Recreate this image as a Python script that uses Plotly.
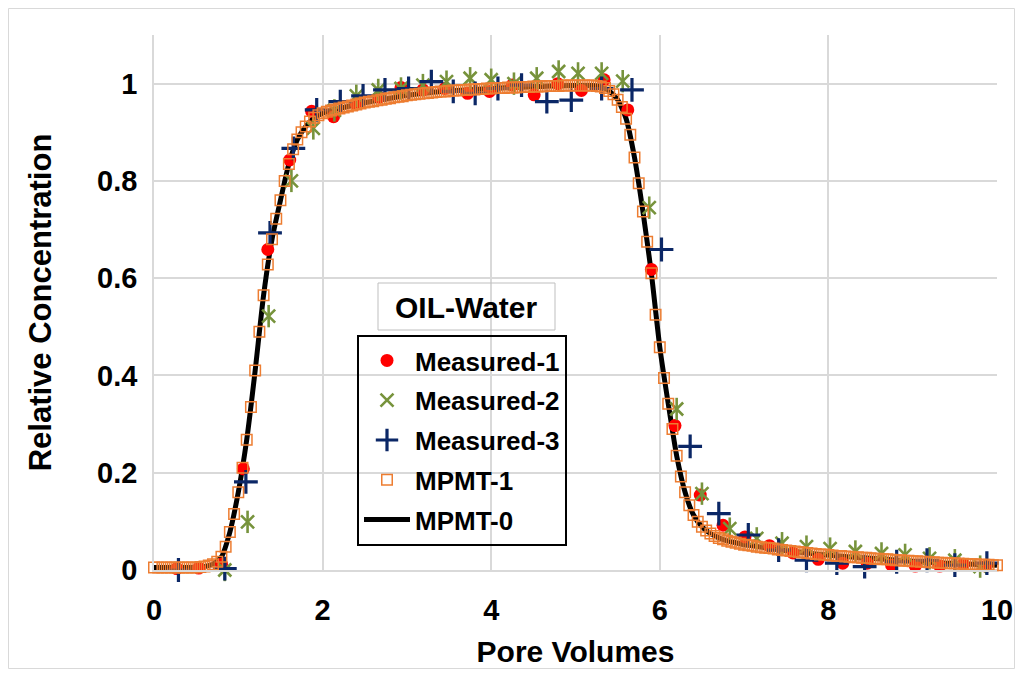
import plotly.graph_objects as go

# ---------------- data ----------------
# Measured-1 (red circles)
m1_pv = [0.27, 0.53, 0.80, 1.06, 1.35, 1.61, 1.87, 2.13, 2.40, 2.67, 2.93, 3.19, 3.45, 3.72,
         3.98, 4.25, 4.51, 4.79, 5.07, 5.34, 5.62, 5.90, 6.18, 6.48, 6.75, 7.01, 7.30, 7.58,
         7.88, 8.17, 8.46, 8.75, 9.03, 9.32, 9.60, 9.87]
m1_c = [0.003, 0.004, 0.012, 0.208, 0.659, 0.843, 0.943, 0.932, 0.958, 0.972, 0.992, 0.987,
        0.990, 0.980, 0.984, 0.997, 0.977, 1.000, 0.986, 1.008, 0.946, 0.618, 0.297, 0.154,
        0.092, 0.068, 0.050, 0.035, 0.022, 0.014, 0.014, 0.010, 0.008, 0.008, 0.012, 0.008]

# Measured-2 (green stars)
m2_pv = [0.29, 0.57, 0.84, 1.11, 1.36, 1.63, 1.89, 2.14, 2.40, 2.66, 2.93, 3.19, 3.47, 3.75,
         4.00, 4.27, 4.54, 4.80, 5.03, 5.31, 5.56, 5.875, 6.20, 6.50, 6.83, 7.15, 7.45, 7.74,
         8.02, 8.32, 8.63, 8.91, 9.20, 9.50, 9.80]
m2_c = [-0.005, -0.005, 0.000, 0.099, 0.522, 0.800, 0.908, 0.945, 0.975, 0.987, 0.990, 0.997,
        1.004, 1.011, 1.008, 1.000, 1.011, 1.025, 1.021, 1.021, 1.005, 0.745, 0.331, 0.157,
        0.085, 0.065, 0.055, 0.048, 0.044, 0.038, 0.034, 0.031, 0.024, 0.020, 0.007]

# Measured-3 (blue crosses)
m3_pv = [0.29, 0.57, 0.84, 1.09, 1.376, 1.653, 1.93, 2.21, 2.48, 2.74, 3.02, 3.29, 3.55, 3.81,
         4.08, 4.36, 4.66, 4.95, 5.31, 5.67, 6.02, 6.36, 6.70, 7.05, 7.41, 7.74, 8.10, 8.43,
         8.81, 9.17, 9.50, 9.88]
m3_c = [0.000, -0.003, 0.003, 0.181, 0.693, 0.867, 0.946, 0.963, 0.975, 0.987, 0.990, 1.004,
        0.984, 0.980, 0.990, 0.997, 0.963, 0.966, 0.990, 0.987, 0.659, 0.254, 0.116, 0.072,
        0.041, 0.020, 0.014, 0.007, 0.017, 0.020, 0.010, 0.014]

# MPMT-1 model (orange squares), sampled every 0.05 PV from 0
mpmt1_start, mpmt1_step = 0.0, 0.05
mpmt1_c = [
    0.005, 0.005, 0.005, 0.005, 0.005, 0.005, 0.005, 0.005, 0.005, 0.005,
    0.005, 0.006, 0.007, 0.009, 0.012, 0.017, 0.027, 0.048, 0.078, 0.115,
    0.160, 0.210, 0.268, 0.335, 0.410, 0.490, 0.565, 0.628, 0.680, 0.722,
    0.760, 0.800, 0.835, 0.865, 0.885, 0.900, 0.912, 0.922, 0.930, 0.935,
    0.939, 0.942, 0.945, 0.947, 0.949, 0.951, 0.953, 0.955, 0.957, 0.959,
    0.961, 0.963, 0.964, 0.966, 0.967, 0.969, 0.970, 0.972, 0.973, 0.974,
    0.976, 0.977, 0.978, 0.979, 0.980, 0.981, 0.982, 0.983, 0.984, 0.984,
    0.985, 0.986, 0.986, 0.987, 0.987, 0.988, 0.988, 0.989, 0.989, 0.990,
    0.990, 0.991, 0.991, 0.991, 0.992, 0.992, 0.992, 0.993, 0.993, 0.993,
    0.994, 0.994, 0.994, 0.995, 0.995, 0.995, 0.995, 0.996, 0.996, 0.996,
    0.996, 0.996, 0.996, 0.996, 0.996, 0.995, 0.994, 0.991, 0.985, 0.978,
    0.967, 0.952, 0.928, 0.895, 0.848, 0.795, 0.737, 0.675, 0.610, 0.525,
    0.458, 0.395, 0.342, 0.290, 0.235, 0.192, 0.160, 0.133, 0.113, 0.099,
    0.089, 0.081, 0.075, 0.070, 0.066, 0.063, 0.060, 0.058, 0.056, 0.054,
    0.052, 0.051, 0.050, 0.048, 0.047, 0.046, 0.045, 0.044, 0.042, 0.041,
    0.040, 0.039, 0.038, 0.037, 0.036, 0.035, 0.034, 0.033, 0.032, 0.032,
    0.031, 0.030, 0.029, 0.029, 0.028, 0.027, 0.026, 0.026, 0.025, 0.025,
    0.024, 0.023, 0.023, 0.022, 0.022, 0.021, 0.020, 0.020, 0.019, 0.019,
    0.018, 0.018, 0.017, 0.017, 0.016, 0.016, 0.015, 0.015, 0.014, 0.014,
    0.014, 0.013, 0.013, 0.012, 0.012, 0.012, 0.011, 0.011, 0.011, 0.010,
    0.010,
]

# MPMT-0 model (black line), sampled every 0.1 PV from 0
mpmt0_start, mpmt0_step = 0.0, 0.1
mpmt0_c = [
    0.005, 0.005, 0.005, 0.005, 0.005, 0.005, 0.007, 0.012, 0.027, 0.078,
    0.160, 0.268, 0.410, 0.565, 0.680, 0.760, 0.835, 0.885, 0.912, 0.930,
    0.939, 0.945, 0.949, 0.953, 0.957, 0.961, 0.964, 0.967, 0.970, 0.973,
    0.976, 0.978, 0.980, 0.982, 0.984, 0.985, 0.986, 0.987, 0.988, 0.989,
    0.990, 0.991, 0.992, 0.992, 0.993, 0.994, 0.994, 0.995, 0.995, 0.996,
    0.996, 0.996, 0.996, 0.994, 0.985, 0.967, 0.928, 0.848, 0.737, 0.610,
    0.458, 0.342, 0.235, 0.160, 0.113, 0.089, 0.075, 0.066, 0.060, 0.056,
    0.052, 0.050, 0.047, 0.045, 0.042, 0.040, 0.038, 0.036, 0.034, 0.032,
    0.031, 0.029, 0.028, 0.026, 0.025, 0.024, 0.023, 0.022, 0.020, 0.019,
    0.018, 0.017, 0.016, 0.015, 0.014, 0.014, 0.013, 0.012, 0.011, 0.011,
    0.010,
]

x_tickvals = [0, 2, 4, 6, 8, 10]
x_ticktext = ["0", "2", "4", "6", "8", "10"]
y_tickvals = [0, 0.2, 0.4, 0.6, 0.8, 1.0]
y_ticktext = ["0", "0.2", "0.4", "0.6", "0.8", "1"]

legend_title = "OIL-Water"
x_title = "Pore Volumes"
y_title = "Relative Concentration"

# ---------------- styling ----------------
FONT = "Liberation Sans, Arial, sans-serif"
RED = "#FF0000"
GREEN = "#77933C"
BLUE = "#0B2766"
ORANGE = "#ED7D31"
GRID = "#D9D9D9"

fig = go.Figure()

fig.add_trace(go.Scatter(
    x0=mpmt0_start, dx=mpmt0_step, y=mpmt0_c, mode="lines", name="MPMT-0",
    line=dict(color="black", width=5, shape="spline", smoothing=0.6),
    legendgroup="g5", legendrank=5, cliponaxis=False))

fig.add_trace(go.Scatter(
    x=m1_pv, y=m1_c, mode="markers", name="Measured-1",
    marker=dict(symbol="circle", size=13, color=RED, line=dict(width=0)),
    legendgroup="g1", legendrank=1, cliponaxis=False))

fig.add_trace(go.Scatter(
    x=m2_pv, y=m2_c, mode="markers", name="Measured-2",
    marker=dict(symbol="x-thin-open", size=13, color=GREEN, line=dict(width=2.6, color=GREEN)),
    legendgroup="g2", legendrank=2, cliponaxis=False))
fig.add_trace(go.Scatter(
    x=m2_pv, y=m2_c, mode="markers", name="Measured-2", showlegend=False,
    marker=dict(symbol="line-ns-open", size=16, color=GREEN, line=dict(width=2.6, color=GREEN)),
    legendgroup="g2", cliponaxis=False))

fig.add_trace(go.Scatter(
    x=m3_pv, y=m3_c, mode="markers", name="Measured-3",
    marker=dict(symbol="cross-thin-open", size=17, color=BLUE, line=dict(width=3.2, color=BLUE)),
    legendgroup="g3", legendrank=3, cliponaxis=False))

fig.add_trace(go.Scatter(
    x0=mpmt1_start, dx=mpmt1_step, y=mpmt1_c, mode="markers", name="MPMT-1",
    marker=dict(symbol="square-open", size=10.5, color=ORANGE, line=dict(width=1.5, color=ORANGE)),
    legendgroup="g4", legendrank=4, cliponaxis=False))

# The page body adds an 8 px offset; figure is sized so that the plot area
# lands at page pixels x 154..997, y 35..570.
OFF = 8
W, H = 1023 - OFF, 677 - OFF
PL, PR, PT, PB = 154, 997, 35, 570          # plot area in page pixels
L, T = PL - OFF, PT - OFF
R, B = (W + OFF) - PR, (H + OFF) - PB
pw, ph = PR - PL, PB - PT


def px(xp):
    return (xp - PL) / pw


def py(yp):
    return (PB - yp) / ph


# "OIL-Water" title box
fig.add_shape(type="rect", xref="paper", yref="paper",
              x0=px(378), x1=px(555), y0=py(330), y1=py(283),
              line=dict(color="#BFBFBF", width=1), fillcolor="rgba(0,0,0,0)")
fig.add_annotation(xref="paper", yref="paper", x=px(466), y=py(307),
                   text=legend_title, showarrow=False,
                   font=dict(family=FONT, size=30, color="black", weight="bold"),
                   xanchor="center", yanchor="middle")

# outer chart border
fig.add_shape(type="rect", xref="paper", yref="paper",
              x0=px(8.5), x1=px(1014.5), y0=py(668.5), y1=py(8.5),
              line=dict(color=GRID, width=1), fillcolor="rgba(0,0,0,0)")

fig.update_layout(
    width=W, height=H,
    margin=dict(l=L, r=R, t=T, b=B, autoexpand=False),
    paper_bgcolor="white", plot_bgcolor="white",
    font=dict(family=FONT, color="black"),
    showlegend=True,
    legend=dict(
        x=px(357), y=py(335), xanchor="left", yanchor="top",
        bgcolor="rgba(0,0,0,0)", bordercolor="black", borderwidth=2,
        font=dict(family=FONT, size=26, color="black", weight="bold"),
        traceorder="grouped", tracegroupgap=3, itemwidth=46,
    ),
    xaxis=dict(
        range=[0, 10], tickvals=x_tickvals, ticktext=x_ticktext, automargin=False,
        showgrid=True, gridcolor=GRID, gridwidth=1.5,
        zeroline=False, showline=True, linecolor=GRID, linewidth=1.5,
        ticks="outside", ticklen=13, tickcolor="rgba(0,0,0,0)",
        tickfont=dict(family=FONT, size=29, color="black", weight="bold"),
        title=dict(text=x_title, standoff=16,
                   font=dict(family=FONT, size=30, color="black", weight="bold")),
    ),
    yaxis=dict(
        range=[0, 1.1], tickvals=y_tickvals, ticktext=y_ticktext, automargin=False,
        showgrid=True, gridcolor=GRID, gridwidth=1.5,
        zeroline=False, showline=True, linecolor=GRID, linewidth=1.5,
        ticks="outside", ticklen=9, tickcolor="rgba(0,0,0,0)",
        tickfont=dict(family=FONT, size=29, color="black", weight="bold"),
        title=dict(text=y_title, standoff=36,
                   font=dict(family=FONT, size=31, color="black", weight="bold")),
    ),
)

fig.write_html("out.html")
